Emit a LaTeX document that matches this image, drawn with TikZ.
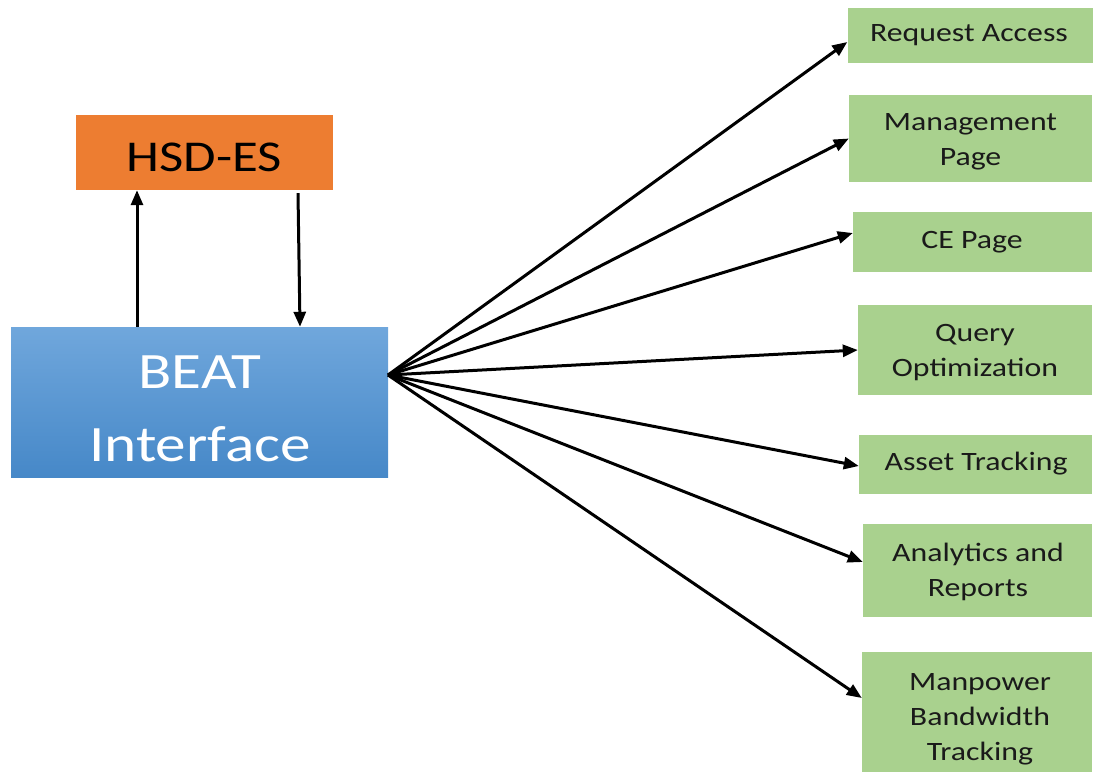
\documentclass[tikz,border=0pt]{standalone}
\usepackage{fontspec}
\setmainfont{Carlito}[FakeStretch=1.2]
\usetikzlibrary{arrows.meta}
\definecolor{hsdorange}{HTML}{ED7D31}
\definecolor{boxgreen}{HTML}{A9D18E}
\definecolor{beattop}{RGB}{112,167,220}
\definecolor{beatbot}{RGB}{70,136,200}
\definecolor{txtdark}{HTML}{1A1A1A}
\begin{document}
\begin{tikzpicture}[x=1pt,y=-1pt,
  feat/.style={fill=boxgreen, draw=none, inner sep=0pt, align=center, text=txtdark, font=\fontsize{26.5}{35}\selectfont},
  lbl/.style={inner sep=0pt, align=center},
  arr/.style={line width=3pt, -{Triangle[length=15pt,width=12pt]}}]
\useasboundingbox (0,0) rectangle (1094,771);
\node[feat, minimum width=245pt, minimum height=55pt] (ra) at (970,35.5) {};
\node[feat] (ralbl) at (969,35) {Request Access};
\node[feat, minimum width=243pt, minimum height=87pt] (mp) at (970.5,138.5) {};
\node[feat] (mplbl) at (970.5,142) {Management\\Page};
\node[feat, minimum width=239pt, minimum height=60pt] (ce) at (972.5,242) {};
\node[feat] (celbl) at (972,242) {CE Page};
\node[feat, minimum width=234pt, minimum height=90pt] (qo) at (975,350) {};
\node[feat] (qolbl) at (975,353) {Query\\Optimization};
\node[feat, minimum width=233pt, minimum height=59pt] (at) at (975.5,464.5) {};
\node[feat] (atlbl) at (976,464) {Asset Tracking};
\node[feat, minimum width=229pt, minimum height=93pt] (ar) at (977.5,570.5) {};
\node[feat] (arlbl) at (978,572) {Analytics and\\Reports};
\node[feat, minimum width=230pt, minimum height=124pt] (mb) at (977,714) {};
\node[feat] (mblbl) at (980,719) {Manpower\\Bandwidth\\Tracking};
\node[fill=hsdorange, minimum width=257pt, minimum height=75pt, inner sep=0pt] (hsd) at (204.5,152.5) {};
\node[lbl, font=\fontsize{44}{50}\selectfont, text=black] (hsdlbl) at (204.5,157) {HSD-ES};
\node[top color=beattop, bottom color=beatbot, minimum width=377pt, minimum height=150pt, inner sep=0pt] (beat) at (199.5,402) {};
\node[lbl, text=white, font=\fontsize{51}{73}\selectfont] (beatlbl) at (200,409) {BEAT\\Interface};
\coordinate (fan) at (388,375);
\draw[arr] ([xshift=-62.5pt]beat.north) -- ([xshift=-67.5pt]hsd.south);
\draw[arr] ([xshift=93.5pt,yshift=-3pt]hsd.south) -- ([xshift=100.5pt]beat.north);
\draw[arr] (fan) -- ([yshift=-6.5pt]ra.west);
\draw[arr] (fan) -- (mp.west);
\draw[arr] (fan) -- ([yshift=9pt]ce.west);
\draw[arr] (fan) -- (qo.west);
\draw[arr] (fan) -- ([yshift=-1.5pt]at.west);
\draw[arr] (fan) -- ([yshift=8.5pt]ar.west);
\draw[arr] (fan) -- ([yshift=16pt]mb.west);
\end{tikzpicture}
\end{document}
